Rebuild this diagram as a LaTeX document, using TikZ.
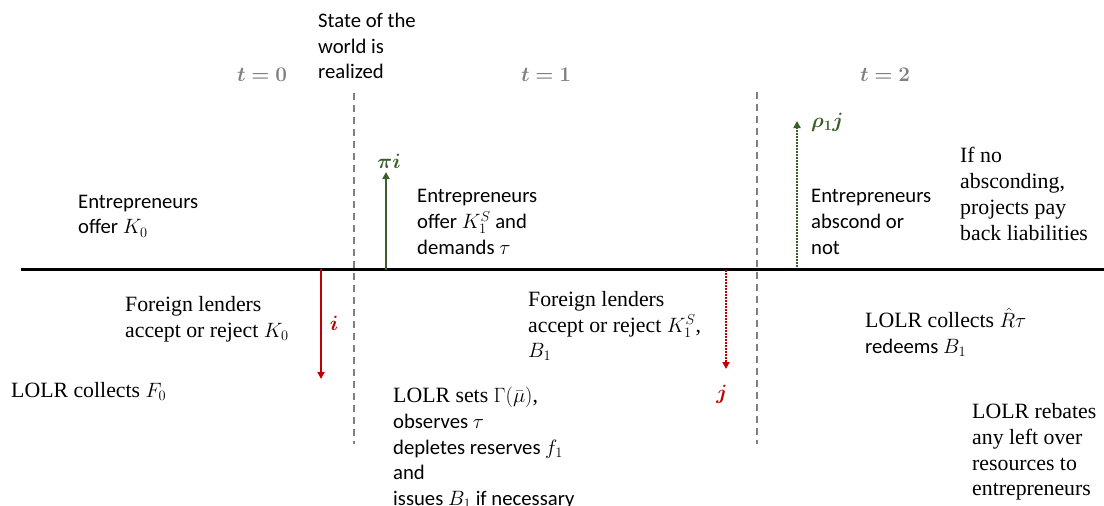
\documentclass[tikz,border=0pt]{standalone}
\usepackage{amsmath,bm}
\usepackage{fontspec}
\setmainfont{Carlito}
\newfontfamily\serifn{Liberation Serif}
\usetikzlibrary{arrows.meta}
\definecolor{dgreen}{HTML}{3B5E2B}
\definecolor{dred}{HTML}{C00000}
\definecolor{tgray}{HTML}{808080}
\tikzset{
  sanstxt/.style={font=\fontsize{20.7}{25.8}\selectfont, align=left, anchor=west, inner sep=0pt},
  seriftxt/.style={font=\fontsize{21.8}{25.8}\selectfont\serifn, align=left, anchor=west, inner sep=0pt},
  timelbl/.style={font=\fontsize{20}{24}\selectfont, text=tgray, inner sep=0pt},
  flowlbl/.style={font=\fontsize{21}{24}\selectfont, inner sep=0pt},
  timeline/.style={line width=3pt, black},
  divider/.style={tgray, line width=1.2pt, dash pattern=on 7pt off 5pt},
  flowarrow/.style={line width=2pt, -{Triangle[length=7pt,width=7pt]}},
  dotarrow/.style={line width=2.2pt, dash pattern=on 1.6pt off 1.4pt, -{Triangle[length=7pt,width=7pt]}},
}
\begin{document}
\begin{tikzpicture}[x=1pt,y=-1pt]
\useasboundingbox (0,0) rectangle (1104,506);
% timeline
\coordinate (tlL) at (21,269);
\coordinate (tlR) at (1104,269);
\draw[timeline] (tlL) -- (tlR);
% dividers
\coordinate (d1top) at (354,93);
\coordinate (d1bot) at (354,444);
\coordinate (d2top) at (757,92);
\coordinate (d2bot) at (757,444);
\draw[divider] (d1top) -- (d1bot);
\draw[divider] (d2top) -- (d2bot);
% time labels
\node[timelbl] (t0) at (262,75) {$\boldsymbol{t=0}$};
\node[timelbl] (t1) at (546,75) {$\boldsymbol{t=1}$};
\node[timelbl] (t2) at (885,75) {$\boldsymbol{t=2}$};
% texts above
\node[sanstxt] (state) at (318,46) {State of the\\world is\\realized};
\node[sanstxt] (ent0) at (78,216) {Entrepreneurs\\offer $K_0$};
\node[sanstxt] (ent1) at (417,222) {Entrepreneurs\\offer $K_1^S$ and\\demands $\tau$};
\node[sanstxt] (ent2) at (811,222) {Entrepreneurs\\abscond or\\not};
\node[seriftxt] (ifno) at (960,194) {If no\\absconding,\\projects pay\\back liabilities};
% texts below
\node[seriftxt] (fl0) at (125,319) {Foreign lenders\\accept or reject $K_0$};
\node[seriftxt] (lolr0) at (11,391) {LOLR collects $F_0$};
\node[seriftxt] (fl1) at (528,326) {Foreign lenders\\accept or reject $K_1^S$,\\$B_1$};
\node[sanstxt] (lolr1) at (393,448) {{\fontsize{21.8}{25.8}\serifn LOLR sets $\Gamma(\bar{\mu})$,}\\observes $\tau$\\depletes reserves $f_1$\\and\\issues $B_1$ if necessary};
\node[sanstxt] (lolr2) at (865,332) {{\fontsize{21.8}{25.8}\serifn LOLR collects $\hat{R}\tau$}\\redeems $B_1$};
\node[seriftxt] (lolr3) at (972,452) {LOLR rebates\\any left over\\resources to\\entrepreneurs};
% flows
\coordinate (ia) at (321,269);
\coordinate (ib) at (321,379);
\draw[flowarrow, dred] (ia) -- (ib);
\node[flowlbl, text=dred] (ilbl) at (334,323) {$\boldsymbol{i}$};
\coordinate (pia) at (386,270);
\coordinate (pib) at (386,172);
\draw[flowarrow, dgreen] (pia) -- (pib);
\node[flowlbl, text=dgreen] (pilbl) at (389,161) {$\boldsymbol{\pi i}$};
\coordinate (ja) at (726,270);
\coordinate (jb) at (726,369);
\draw[dotarrow, dred] (ja) -- (jb);
\node[flowlbl, text=dred] (jlbl) at (722,394) {$\boldsymbol{j}$};
\coordinate (rha) at (797,267);
\coordinate (rhb) at (797,121);
\draw[dotarrow, dgreen] (rha) -- (rhb);
\node[flowlbl, text=dgreen, anchor=west] (rholbl) at (811,122) {$\boldsymbol{\rho_1 j}$};
\end{tikzpicture}
\end{document}
